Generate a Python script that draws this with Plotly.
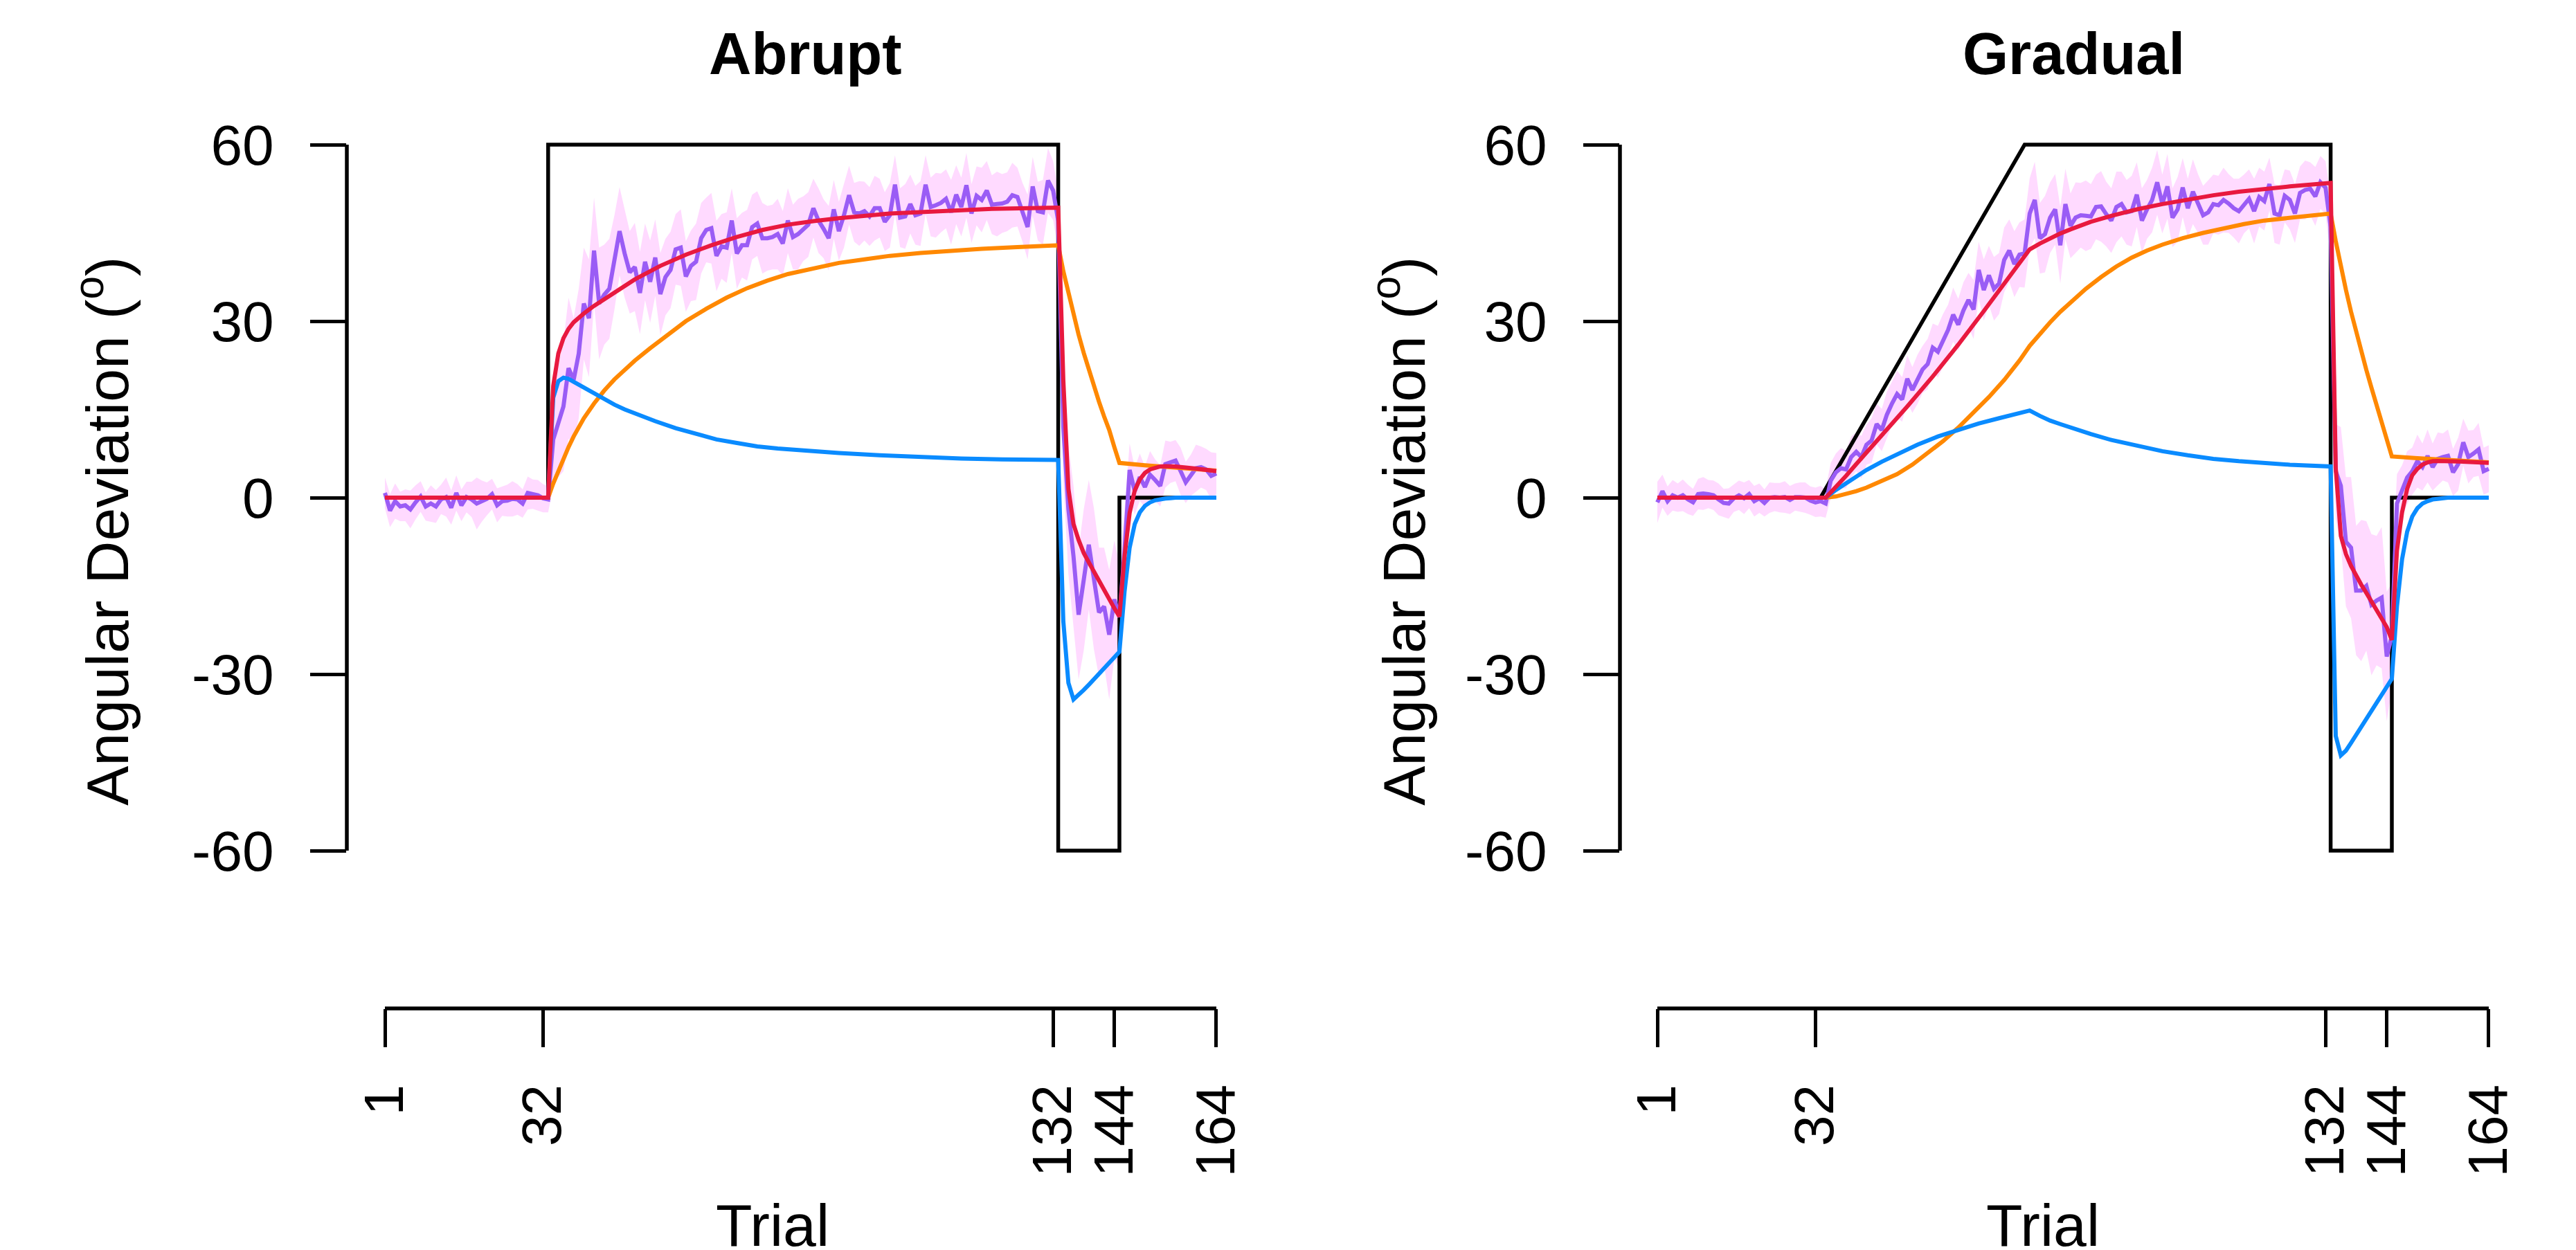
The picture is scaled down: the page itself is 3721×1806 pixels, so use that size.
import plotly.graph_objects as go

# ---------------- data ----------------
TRIAL_TICKS = [1, 32, 132, 144, 164]
Y_TICKS = [-60, -30, 0, 30, 60]
Y_TICK_TEXT = ["-60", "-30", "0", "30", "60"]
TITLES = ["Abrupt", "Gradual"]

# perturbation schedules (black)
ABR_SCHED_T = [1, 33, 33, 133, 133, 145, 145, 164]
ABR_SCHED_V = [0, 0, 60, 60, -60, -60, 0, 0]
GRD_SCHED_T = [1, 33, 73, 133, 133, 145, 145, 164]
GRD_SCHED_V = [0, 0, 60, 60, -60, -60, 0, 0]

# mean reach deviation per trial (purple), trials 1..164
ABR_MEAN = [0.8, -2.2, -0.6, -1.5, -1.3, -2.0, -0.8, 0.2, -1.5, -1.0, -1.5, -0.3, 0.1, -1.7, 0.8, -1.3, 0.1,
            -0.3, -1.0, -0.6, -0.2, 0.6, -1.3, -0.6, -0.5, -0.2, -0.3, -1.0, 0.8, 0.6, 0.4, -0.1, -0.3,
            9.9, 13.0, 15.5, 22.0, 20.0, 24.5, 33.0, 30.5, 42.0, 33.0, 34.5, 35.5, 40.0, 45.3, 41.5, 38.3,
            39.2, 34.8, 40.1, 36.7, 40.8, 34.6, 37.5, 38.7, 42.2, 42.5, 37.6, 39.4, 40.1, 44.1, 45.5, 45.8,
            41.1, 42.7, 42.5, 47.1, 41.5, 42.9, 42.9, 46.0, 46.6, 44.1, 44.1, 44.3, 44.8, 43.2, 47.1, 44.3,
            44.8, 45.7,
            46.4, 49.2, 47.1, 45.7, 44.1, 49.0, 45.3, 48.0, 51.4, 48.5, 48.3, 48.7, 47.8, 49.2, 49.2, 46.9,
            48.0, 53.2, 47.6, 47.8, 49.9, 48.0, 48.3, 53.2, 49.4, 49.7, 50.1, 50.8, 48.5, 51.5, 49.4, 53.1,
            48.3, 51.3, 50.6, 52.2, 49.8, 49.9, 50.0, 50.3, 51.4, 51.1, 48.5, 46.0, 52.9, 48.7, 48.5, 53.9,
            52.2, 47.0,
            12.0, -2.0, -10.0, -19.9, -14.0, -8.0, -13.8, -19.5, -18.5, -23.3, -17.3, -20.3, -9.0, 4.7,
            1.1, 3.5, 1.8, 3.9, 3.0, 2.0, 5.7, 6.0, 6.3, 4.5, 2.6, 3.8, 5.0, 5.2, 4.8, 3.7, 4.1]
ABR_HW = [2.6, 2.8, 3.0, 2.5, 2.7, 3.2, 2.9, 2.6, 2.4, 3.1, 2.8, 2.5, 3.3, 2.9, 3.0, 2.7, 2.6, 3.0, 4.4,
          3.5, 2.8, 2.6, 2.9, 2.5, 2.7, 3.0, 2.6, 2.4, 2.8, 2.5, 2.6, 2.4, 2.2,
          8, 9.5, 11, 12, 10.5, 11, 9.5, 10, 9, 9.5, 8.5, 8.5, 8, 7.5, 7.5, 7, 7.5, 7, 6.5, 7,
          6.5, 7, 6.5, 6.5, 6, 6.5, 6, 6, 6.5, 6, 5.5, 6, 6, 5.5, 6, 5.5, 6, 5.5, 6, 5.5,
          5.5, 6, 5.5, 5.5, 6, 5.5, 5.5, 5.5, 6, 5.5,
          5.5, 5, 5.5, 5, 5.5, 5, 5, 5.5, 5, 5, 5.5, 5, 5, 5.5, 5, 5, 5.5, 5, 5, 5.5,
          5, 5, 5.5, 5, 5, 5.5, 5, 5, 5.5, 5, 5, 5.5, 5, 5, 5.5, 5, 5, 5.5, 5, 5,
          5.5, 5, 5, 5.5, 5, 5, 5.5, 5.5, 5, 5,
          9, 11, 12, 11, 12, 11, 12, 11, 10, 11, 10, 9, 7, 4.5, 4, 4, 3.5, 4, 3.5, 3.5, 4, 3.5,
          3.5, 4, 3.5, 3.5, 4, 3.5, 3.5, 4, 3.5]

GRD_MEAN = [-0.8, 1.1, -0.6, 0.4, 0.0, 0.4, -0.3, -0.8, 0.6, 0.7, 0.6, 0.4, -0.3, -0.9, -1.0, -0.1, 0.4,
            -0.1, 0.6, -0.6, -0.1, -0.9, 0.0, 0.1, 0.0, 0.1, -0.4, 0.1, 0.1, 0.0, -0.5, -0.8, -0.6, -1.0,
            2.9, 4.3, 5.0, 4.8, 6.9, 7.8, 6.9, 9.0, 9.7, 12.5, 11.5, 14.1, 16.0, 17.6, 16.7, 20.2, 18.3,
            20.1, 21.8, 22.7, 25.5, 24.8, 26.7, 28.5, 31.1, 29.4, 31.8, 33.6, 32.0, 38.7, 35.3, 37.8,
            35.5, 36.4, 40.4, 42.0, 39.7, 41.3, 41.5, 48.3, 50.6, 44.1, 44.8, 47.6, 49.0, 42.9, 49.9, 46.2,
            47.6, 48.0, 47.9, 47.8, 49.4, 49.5, 48.2, 47.1, 49.4, 49.9, 48.5, 48.7, 51.5, 47.1, 49.0, 50.6,
            53.6, 49.9, 52.9, 47.6, 49.0, 52.7, 49.2, 52.0, 50.0, 48.0, 48.5, 49.9, 49.7, 50.6, 50.0, 49.2,
            48.7, 49.9, 50.8, 48.7, 51.1, 50.4, 53.3, 48.3, 48.0, 51.3, 50.6, 48.3, 51.8, 52.3, 52.5, 51.2,
            53.6, 52.7, 46.0,
            4.5, 2.0, -7.5, -8.5, -15.8, -15.8, -15.0, -18.2, -17.5, -17.0, -27.0, -23.5, -1.0, 1.0, 3.4,
            4.5, 6.2, 5.2, 7.1, 5.2, 6.6, 6.9, 7.1, 4.3, 5.7, 9.4, 6.9, 7.5, 8.2, 4.5, 4.9]
GRD_HW = [3.5, 2.8, 2.5, 2.6, 2.4, 2.7, 2.5, 2.3, 2.6, 2.8, 2.4, 2.5, 2.7, 2.4, 2.6, 2.3, 2.5, 2.7, 2.4,
          2.6, 2.5, 2.3, 2.6, 2.4, 2.5, 2.7, 2.4, 2.3, 2.5, 2.6, 2.4, 2.5, 2.6, 2.4,
          3.0, 3.2, 3.4, 3.2, 3.5, 3.3, 3.6, 3.4, 3.8, 3.5, 3.6, 3.9, 3.7, 4.0, 3.8, 4.0, 3.9, 4.2, 4.0,
          4.3, 4.1, 4.4, 4.5, 4.3, 4.6, 4.4, 4.8, 4.6, 5.0, 4.8, 5.2, 5.0, 5.4, 5.2, 5.5, 5.3, 5.6, 5.5, 5.8,
          6.0, 6.5, 6.0, 6.5, 6.0, 6.0, 6.5, 6.0, 5.5, 6.0, 5.5, 6.0, 5.5, 5.5, 6.0, 5.5, 5.5, 6.0, 5.5, 5.5,
          6.0, 5.5, 5.5, 5.0, 5.5, 5.5, 5.0, 5.5, 5.0, 5.5, 5.0, 5.0, 5.5, 5.0, 5.0, 5.5, 5.0, 5.0, 5.5, 5.0,
          5.0, 5.5, 5.0, 5.0, 5.5, 5.0, 5.0, 4.5, 5.0, 5.0, 4.5, 5.0, 5.0, 4.5, 5.0, 4.5, 5.0, 4.5, 4.5, 5.0,
          8, 10, 11, 12, 11, 12, 11, 12, 11, 12, 11, 9, 5, 4.5, 4.5, 4.0, 4.5, 4.0, 4.5, 4.0, 4.5, 4.0,
          4.5, 4.0, 4.5, 4.0, 4.5, 4.0, 4.5, 4.0, 4.0]

# two-state model: total (red), slow (orange), fast (blue)
ABR_TOTAL_T = [1, 33, 34, 35, 36, 37, 38, 39, 40, 42, 45, 50, 55, 60, 65, 70, 75, 80, 85, 90, 100, 110, 120,
               133, 134, 135, 136, 137, 138, 139, 140, 141, 142, 143, 144, 145, 146, 147, 148, 149, 150,
               151, 152, 153, 154, 156, 160, 164]
ABR_TOTAL_V = [0, 0, 19.0, 24.5, 27.1, 28.7, 29.8, 30.6, 31.3, 32.6, 34.3, 37.1, 39.4, 41.3, 42.9, 44.3,
               45.5, 46.4, 47.0, 47.5, 48.3, 48.7, 49.1, 49.3, 20.0, 1.5, -4.5, -7.2, -9.4, -11.0, -12.6,
               -14.2, -15.8, -17.3, -18.8, -20.2, -10.0, -2.6, 1.2, 3.1, 4.2, 4.8, 5.1, 5.3, 5.35, 5.3,
               4.95, 4.5]
ABR_SLOW_T = [1, 33, 34, 35, 36, 37, 38, 39, 40, 42, 44, 46, 48, 50, 53, 56, 60, 64, 68, 72, 76, 80, 85,
              90, 95, 100, 106, 112, 118, 125, 133, 134, 135, 136, 137, 138, 139, 140, 141, 142, 143, 144,
              145, 150, 155, 160, 164]
ABR_SLOW_V = [0, 0, 2.4, 4.6, 6.7, 8.6, 10.4, 12.0, 13.5, 16.0, 18.2, 20.1, 21.8, 23.3, 25.4, 27.3, 30.0,
              32.1, 34.0, 35.6, 36.9, 38.0, 39.0, 39.9, 40.5, 41.1, 41.6, 42.0, 42.3, 42.6, 42.9, 38.5,
              34.8, 31.1, 27.7, 24.6, 21.7, 18.9, 16.3, 13.8, 11.5, 8.6, 5.9, 5.5, 5.2, 4.85, 4.6]
ABR_FAST_T = [1, 33, 34, 35, 36, 37, 38, 39, 40, 41, 42, 44, 46, 48, 50, 54, 58, 62, 66, 70, 74, 78, 82,
              90, 98, 106, 114, 122, 133, 134, 135, 136, 137, 138, 139, 140, 141, 142, 143, 144, 145, 146,
              147, 148, 149, 150, 151, 152, 153, 154, 155, 156, 164]
ABR_FAST_V = [0, 0, 17.0, 19.8, 20.4, 20.2, 19.7, 19.2, 18.6, 18.1, 17.6, 16.7, 15.8, 15.0, 14.3, 13.0,
              11.8, 10.8, 9.9, 9.3, 8.7, 8.35, 8.05, 7.6, 7.2, 6.9, 6.65, 6.5, 6.4, -21.0, -31.5, -34.3,
              -33.6, -32.7, -31.8, -30.9, -30.0, -29.0, -28.1, -27.1, -26.2, -16.0, -8.5, -4.5, -2.5,
              -1.4, -0.8, -0.45, -0.25, -0.15, -0.08, 0, 0]

GRD_TOTAL_T = [1, 34, 35, 36, 37, 38, 40, 45, 50, 55, 60, 65, 70, 74, 76, 78, 80, 82, 86, 90, 95, 100, 105,
               110, 115, 120, 125, 133, 134, 135, 136, 137, 138, 139, 140, 141, 142, 143, 144, 145, 146,
               147, 148, 149, 150, 151, 152, 153, 154, 158, 164]
GRD_TOTAL_V = [0, 0, 0.9, 1.8, 2.7, 3.7, 5.7, 10.5, 15.5, 20.6, 26.0, 31.7, 37.6, 42.2, 43.2, 44.1, 44.9,
               45.6, 46.9, 47.9, 49.0, 49.9, 50.7, 51.4, 52.0, 52.5, 52.9, 53.5, 5.0, -6.5, -9.6, -11.6,
               -13.3, -14.8, -16.2, -17.6, -19.0, -20.4, -22.0, -24.2, -9.0, -2.5, 1.5, 3.8, 4.9, 5.6,
               6.0, 6.2, 6.25, 6.15, 5.9]
GRD_SLOW_T = [1, 34, 36, 38, 40, 42, 45, 48, 51, 54, 57, 60, 63, 66, 69, 72, 74, 76, 78, 80, 82, 85, 88,
              91, 94, 97, 100, 104, 108, 112, 116, 120, 125, 129, 133, 134, 135, 136, 137, 138, 139, 140,
              141, 142, 143, 144, 145, 150, 155, 160, 164]
GRD_SLOW_V = [0, 0, 0.2, 0.6, 1.1, 1.7, 2.8, 4.0, 5.6, 7.5, 9.6, 11.9, 14.4, 17.1, 20.0, 23.3, 25.8,
              27.9, 29.8, 31.6, 33.2, 35.5, 37.5, 39.3, 40.8, 42.0, 43.0, 44.1, 45.0, 45.8, 46.5, 47.1,
              47.6, 48.0, 48.3, 43.6, 39.3, 35.3, 31.6, 28.1, 24.8, 21.7, 18.7, 15.8, 12.9, 10.0, 7.0,
              6.7, 6.45, 6.2, 6.0]
GRD_FAST_T = [1, 34, 36, 38, 40, 42, 45, 48, 52, 56, 60, 64, 68, 72, 74, 76, 78, 80, 82, 86, 90, 95, 100,
              105, 110, 115, 120, 125, 133, 134, 135, 136, 137, 138, 139, 140, 141, 142, 143, 144, 145,
              146, 147, 148, 149, 150, 151, 152, 153, 154, 155, 156, 164]
GRD_FAST_V = [0, 0, 1.3, 2.5, 3.6, 4.7, 6.1, 7.4, 9.0, 10.4, 11.5, 12.6, 13.5, 14.3, 14.8, 13.9, 13.1,
              12.5, 11.9, 10.8, 9.8, 8.8, 7.9, 7.2, 6.6, 6.2, 5.9, 5.6, 5.3, -40.5, -43.8, -43.0, -41.7,
              -40.3, -39.0, -37.6, -36.2, -34.9, -33.5, -32.2, -30.8, -18.5, -10.5, -5.8, -3.2, -1.8,
              -1.0, -0.6, -0.3, -0.2, -0.1, 0, 0]

# ---------------- styling ----------------
W, H = 3721, 1806
FONT = "Liberation Sans, Arial, Helvetica, sans-serif"
C_BAND = "#FFDAFF"
C_DATA = "#9A5CF5"
C_SLOW = "#FF8800"
C_FAST = "#0A8BFF"
C_TOTAL = "#E8193F"
LW = 6
PX_PER_TRIAL = 7.368
SPAN = 177.92                        # trial units across the plot region

PANELS = [
    dict(sched=(ABR_SCHED_T, ABR_SCHED_V), mean=ABR_MEAN, hw=ABR_HW,
         total=(ABR_TOTAL_T, ABR_TOTAL_V), slow=(ABR_SLOW_T, ABR_SLOW_V), fast=(ABR_FAST_T, ABR_FAST_V),
         axis_px=501, first_px=556, title_x=1163, ylab_x=149, xlab_x=1116),
    dict(sched=(GRD_SCHED_T, GRD_SCHED_V), mean=GRD_MEAN, hw=GRD_HW,
         total=(GRD_TOTAL_T, GRD_TOTAL_V), slow=(GRD_SLOW_T, GRD_SLOW_V), fast=(GRD_FAST_T, GRD_FAST_V),
         axis_px=2340, first_px=2394, title_x=2995, ylab_x=2022, xlab_x=2951),
]

Y_TOP_PX, Y_BOT_PX = 175, 1263      # plot area (y range -64..64)
XAX_PX = 1457                        # detached x-axis line

fig = go.Figure()
layout = dict(width=W, height=H, margin=dict(l=0, r=0, t=0, b=0, pad=0, autoexpand=False),
              paper_bgcolor="white", plot_bgcolor="white", showlegend=False,
              font=dict(family=FONT, size=82, color="black"))
shapes, annotations = [], []

for i, p in enumerate(PANELS):
    sfx = "" if i == 0 else str(i + 1)
    xa, ya = "x" + sfx, "y" + sfx
    trials = list(range(1, len(p["mean"]) + 1))
    upper = [m + h for m, h in zip(p["mean"], p["hw"])]
    lower = [m - h for m, h in zip(p["mean"], p["hw"])]
    fig.add_trace(go.Scatter(x=trials + trials[::-1], y=upper + lower[::-1], fill="toself",
                             fillcolor=C_BAND, line=dict(width=0), mode="lines", hoverinfo="skip",
                             xaxis=xa, yaxis=ya))
    fig.add_trace(go.Scatter(x=p["sched"][0], y=p["sched"][1], mode="lines",
                             line=dict(color="black", width=5.5), xaxis=xa, yaxis=ya))
    fig.add_trace(go.Scatter(x=trials, y=p["mean"], mode="lines",
                             line=dict(color=C_DATA, width=LW), xaxis=xa, yaxis=ya))
    fig.add_trace(go.Scatter(x=p["slow"][0], y=p["slow"][1], mode="lines",
                             line=dict(color=C_SLOW, width=LW), xaxis=xa, yaxis=ya))
    fig.add_trace(go.Scatter(x=p["fast"][0], y=p["fast"][1], mode="lines",
                             line=dict(color=C_FAST, width=LW), xaxis=xa, yaxis=ya))
    fig.add_trace(go.Scatter(x=p["total"][0], y=p["total"][1], mode="lines",
                             line=dict(color=C_TOTAL, width=LW), xaxis=xa, yaxis=ya))

    x_start = TRIAL_TICKS[0] - (p["first_px"] - p["axis_px"]) / PX_PER_TRIAL
    dom_r = p["axis_px"] + SPAN * PX_PER_TRIAL
    pos = (H - XAX_PX) / H
    layout["xaxis" + sfx] = dict(domain=[p["axis_px"] / W, dom_r / W], range=[x_start, x_start + SPAN],
                                 anchor="free", position=pos, showline=False, showgrid=False,
                                 zeroline=False, ticks="outside", ticklen=55, tickwidth=5,
                                 tickcolor="black", tickvals=TRIAL_TICKS,
                                 ticktext=[str(t) for t in TRIAL_TICKS], tickangle=-90,
                                 tickfont=dict(size=80), ticklabelstandoff=22, fixedrange=True,
                                 automargin=False)
    layout["yaxis" + sfx] = dict(domain=[(H - Y_BOT_PX) / H, (H - Y_TOP_PX) / H], range=[-64, 64],
                                 anchor=xa, showline=False, showgrid=False, zeroline=False,
                                 ticks="outside", ticklen=52, tickwidth=5, tickcolor="black",
                                 tickvals=Y_TICKS, ticktext=Y_TICK_TEXT, tickfont=dict(size=82),
                                 ticklabelstandoff=36, fixedrange=True, automargin=False)
    shapes.append(dict(type="line", xref=xa + " domain", yref=ya, x0=0, x1=0,
                       y0=Y_TICKS[0], y1=Y_TICKS[-1], line=dict(color="black", width=5.5)))
    shapes.append(dict(type="line", xref=xa, yref="paper", x0=TRIAL_TICKS[0], x1=TRIAL_TICKS[-1],
                       y0=pos, y1=pos, line=dict(color="black", width=5.5)))
    annotations.append(dict(text="<b>" + TITLES[i] + "</b>", x=p["title_x"] / W, y=1 - 78 / H,
                            xref="paper", yref="paper", xanchor="center", yanchor="middle",
                            showarrow=False, font=dict(size=85)))
    annotations.append(dict(text="Angular Deviation (<sup>o</sup>)", x=p["ylab_x"] / W, y=1 - 767 / H,
                            xref="paper", yref="paper", xanchor="center", yanchor="middle",
                            textangle=-90, showarrow=False, font=dict(size=86)))
    annotations.append(dict(text="Trial", x=p["xlab_x"] / W, y=1 - 1770 / H, xref="paper",
                            yref="paper", xanchor="center", yanchor="middle", showarrow=False,
                            font=dict(size=86)))

layout["shapes"] = shapes
layout["annotations"] = annotations
fig.update_layout(**layout)
fig.write_html("out.html", config={"displayModeBar": False},
               post_script="document.body.style.margin='0';document.body.style.padding='0';")
